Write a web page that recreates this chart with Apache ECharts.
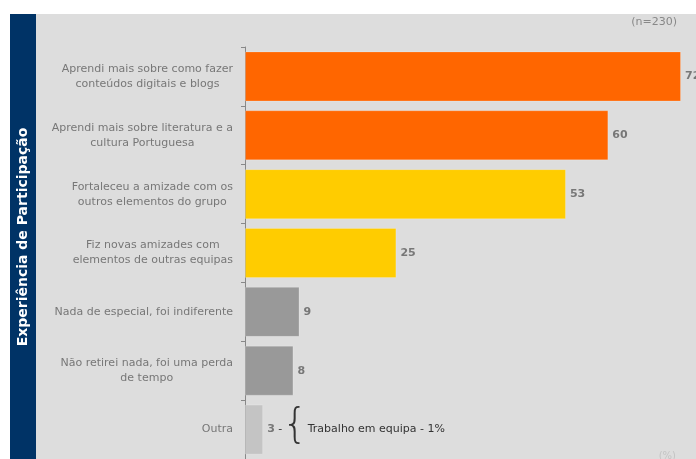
<!DOCTYPE html>
<html>
<head>
<meta charset="utf-8">
<script src="https://cdn.jsdelivr.net/npm/echarts@6/dist/echarts.min.js"></script>
<style>
  html, body { margin: 0; padding: 0; background: #fff; }
  #chart { width: 696px; height: 459px; }
</style>
</head>
<body>
<div id="chart"></div>
<script>
  // categorias (de cima para baixo)
  const categories = [
    'Aprendi mais sobre como fazer\nconteúdos digitais e blogs',
    'Aprendi mais sobre literatura e a\ncultura Portuguesa',
    'Fortaleceu a amizade com os\noutros elementos do grupo',
    'Fiz novas amizades com\nelementos de outras equipas',
    'Nada de especial, foi indiferente',
    'Não retirei nada, foi uma perda\nde tempo',
    'Outra'
  ];
  const values = [72, 60, 53, 25, 9, 8, 3];
  const barColors = ['#ff6600', '#ff6600', '#ffcc00', '#ffcc00', '#999999', '#999999', '#c4c4c4'];
  const sideTitle = 'Experiência de Participação';
  const sampleNote = '(n=230)';
  const unitNote = '(%)';
  const outraNote = 'Trabalho em equipa - 1%';

  let chart = echarts.init(document.getElementById('chart'));

  let option = {
    backgroundColor: '#ffffff',
    animation: false,
    graphic: [
      { type: 'rect', z: -10, shape: { x: 10, y: 14, width: 686, height: 445 }, style: { fill: '#dddddd' } },
      { type: 'rect', z: -9, shape: { x: 10, y: 14, width: 26, height: 445 }, style: { fill: '#003366' } },
      {
        type: 'text', x: 23, y: 237, rotation: Math.PI / 2,
        style: { text: sideTitle, fill: '#ffffff', fontFamily: 'DejaVu Sans', fontWeight: 'bold', fontSize: 14, align: 'center', verticalAlign: 'middle' }
      },
      {
        type: 'text', x: 677, y: 22,
        style: { text: sampleNote, fill: '#888888', fontFamily: 'DejaVu Sans', fontSize: 11, align: 'right', verticalAlign: 'middle' }
      },
      {
        type: 'text', x: 676, y: 456,
        style: { text: unitNote, fill: '#c4c4c4', fontFamily: 'DejaVu Sans', fontSize: 10, align: 'right', verticalAlign: 'middle' }
      }
    ],
    grid: { left: 245, top: 47, width: 436, height: 420 },
    xAxis: {
      type: 'value', min: 0, max: 72, show: false
    },
    yAxis: {
      type: 'category',
      inverse: true,
      data: categories,
      axisLine: { show: true, lineStyle: { color: '#888888', width: 1 } },
      axisTick: { show: true, length: 4, lineStyle: { color: '#888888' } },
      axisLabel: {
        margin: 12,
        align: 'right',
        color: '#777777',
        fontFamily: 'DejaVu Sans',
        fontSize: 11,
        lineHeight: 15,
        formatter: function (v) {
          return v.split('\n').map(function (l) { return '{c|' + l + '}'; }).join('\n');
        },
        rich: {
          c: { align: 'center', color: '#777777', fontFamily: 'DejaVu Sans', fontSize: 11, lineHeight: 15 }
        }
      }
    },
    series: [{
      type: 'bar',
      data: values.map(function (v, i) {
        return { value: v, itemStyle: { color: barColors[i] } };
      }),
      barCategoryGap: '15%',
      itemStyle: { borderColor: 'rgba(255,255,255,0.2)', borderWidth: 1 },
      label: {
        show: true,
        position: 'right',
        distance: 4,
        color: '#777777',
        fontFamily: 'DejaVu Sans',
        fontWeight: 'bold',
        fontSize: 11,
        formatter: function (p) {
          if (p.dataIndex === values.length - 1) {
            return '{v|' + p.value + '}{d| -}{br|{}{t|' + outraNote + '}';
          }
          return String(p.value);
        },
        rich: {
          v: { color: '#777777', fontFamily: 'DejaVu Sans', fontWeight: 'bold', fontSize: 11 },
          d: { color: '#333333', fontFamily: 'DejaVu Sans', fontWeight: 'normal', fontSize: 11 },
          br: { color: '#333333', fontFamily: 'DejaVu Sans', fontWeight: 200, fontSize: 40, padding: [0, 0, 5, 0] },
          t: { color: '#333333', fontFamily: 'DejaVu Sans', fontWeight: 'normal', fontSize: 11 }
        }
      }
    }]
  };

  chart.setOption(option);
</script>
</body>
</html>
